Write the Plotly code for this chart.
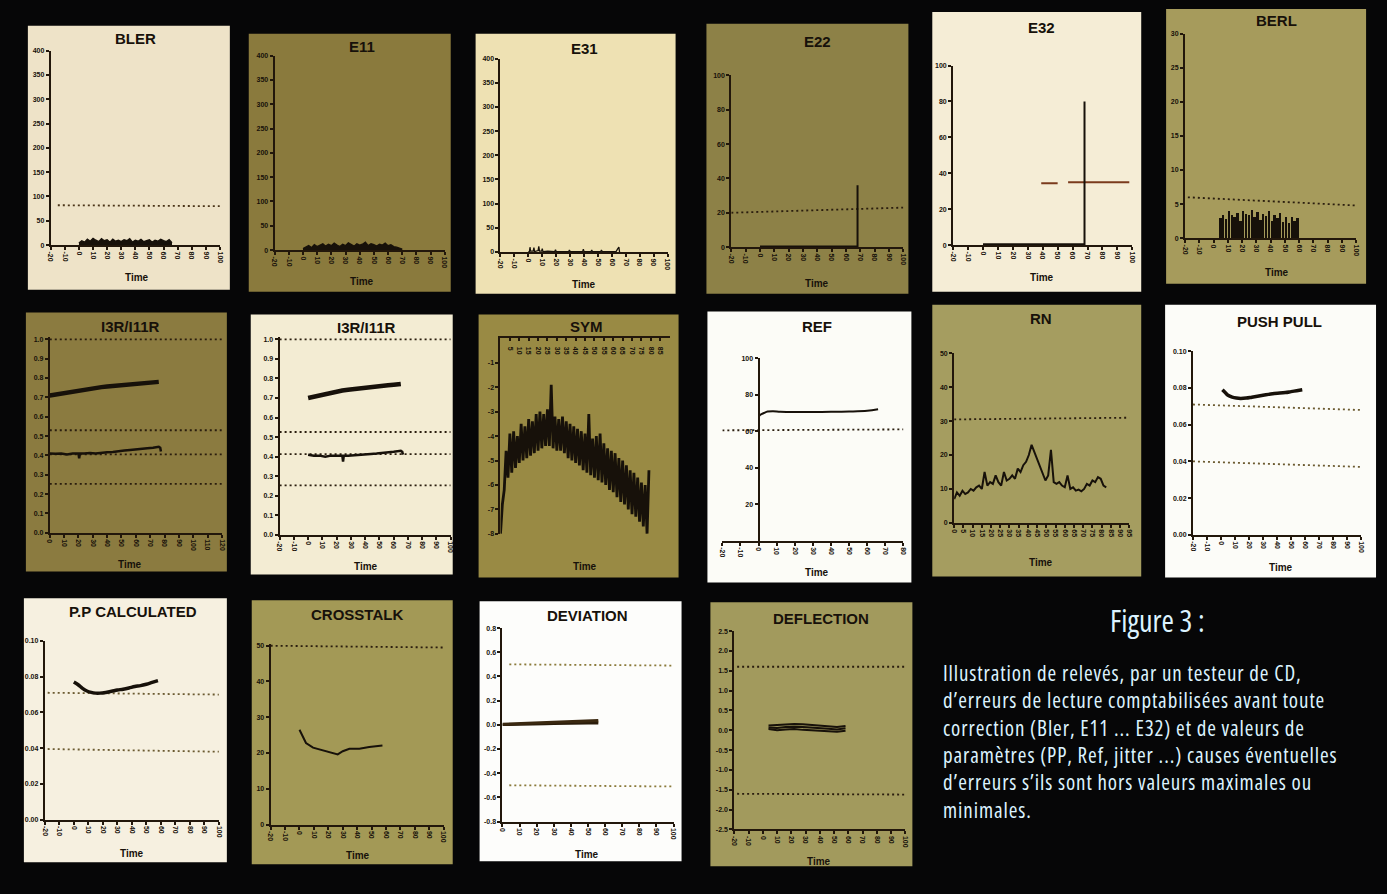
import plotly.graph_objects as go

W, H = 1387, 894

# ---------------- data ----------------
TITLES = ["BLER", "E11", "E31", "E22", "E32", "BERL",
          "I3R/I11R", "I3R/I11R", "SYM", "REF", "RN", "PUSH PULL",
          "P.P CALCULATED", "CROSSTALK", "DEVIATION", "DEFLECTION"]
TIME_LABEL = "Time"

CAPTION_TITLE = "Figure 3 :"
CAPTION_LINES = [
    "Illustration de relevés, par un testeur de CD,",
    "d’erreurs de lecture comptabilisées avant toute",
    "correction (Bler, E11 ... E32) et de valeurs de",
    "paramètres (PP, Ref, jitter ...) causes éventuelles",
    "d’erreurs s’ils sont hors valeurs maximales ou",
    "minimales.",
]

# tick values
X_STD = [-20, -10, 0, 10, 20, 30, 40, 50, 60, 70, 80, 90, 100]
X_I3R = [0, 10, 20, 30, 40, 50, 60, 70, 80, 90, 100, 110, 120]
X_SYM = [5, 10, 15, 20, 25, 30, 35, 40, 45, 50, 55, 60, 65, 70, 75, 80, 85, 90]
X_REF = [-20, -10, 0, 10, 20, 30, 40, 50, 60, 70, 80]
X_RN = [0, 5, 10, 15, 20, 25, 30, 35, 40, 45, 50, 55, 60, 65, 70, 75, 80, 85, 90, 95]
X_DEV = [0, 10, 20, 30, 40, 50, 60, 70, 80, 90, 100]

Y_400 = [0, 50, 100, 150, 200, 250, 300, 350, 400]
Y_100 = [0, 20, 40, 60, 80, 100]
Y_30 = [0, 5, 10, 15, 20, 25, 30]
Y_UNIT = [0.0, 0.1, 0.2, 0.3, 0.4, 0.5, 0.6, 0.7, 0.8, 0.9, 1.0]
Y_SYM = [-1, -2, -3, -4, -5, -6, -7, -8]
Y_REF = [20, 40, 60, 80, 100]
Y_50 = [0, 10, 20, 30, 40, 50]
Y_PP = [0.00, 0.02, 0.04, 0.06, 0.08, 0.10]
Y_DEV = [-0.8, -0.6, -0.4, -0.2, 0.0, 0.2, 0.4, 0.6, 0.8]
Y_DEF = [-2.5, -2.0, -1.5, -1.0, -0.5, 0.0, 0.5, 1.0, 1.5, 2.0, 2.5]

# series
BLER_T = [0, 2, 4, 6, 8, 10, 12, 14, 16, 18, 20, 22, 24, 26, 28, 30, 32, 34,
          36, 38, 40, 42, 44, 46, 48, 50, 52, 54, 56, 58, 60, 62, 64, 66]
BLER_V = [4, 9, 6, 12, 8, 14, 10, 7, 13, 9, 11, 6, 12, 8, 10, 7, 11, 9,
          13, 6, 10, 8, 12, 7, 9, 11, 6, 10, 8, 12, 9, 7, 11, 5]
BLER_LIMIT_T = [-15, 100]
BLER_LIMIT_V = [82, 80]

E11_T = [0, 2, 4, 6, 8, 10, 12, 14, 16, 18, 20, 22, 24, 26, 28, 30, 32, 34,
         36, 38, 40, 42, 44, 46, 48, 50, 52, 54, 56, 58, 60, 62, 64, 66, 68, 70]
E11_V = [3, 6, 9, 5, 11, 7, 10, 13, 8, 12, 9, 14, 10, 7, 12, 9, 15, 11,
         8, 13, 10, 12, 16, 9, 13, 11, 8, 12, 10, 14, 9, 11, 7, 6, 4, 2]

E31_T = [0, 0.8, 1.2, 1.6, 3.5, 4, 4.5, 6, 7, 7.5, 8, 9.5, 10, 10.5, 14, 19, 19.5, 20,
         24, 29, 29.5, 30, 34, 39, 39.5, 40, 43, 45, 45.5, 46, 49, 52, 52.5, 53, 58,
         63, 64, 65, 65.5]
E31_V = [1, 1, 10, 2, 2, 9, 1, 2, 3, 12, 2, 2, 7, 1, 2, 1, 5, 1,
         1, 1, 4, 1, 1, 1, 6, 1, 1, 1, 4, 1, 1, 1, 4, 1, 1,
         1, 6, 10, 0]

E22_T = [0, 68, 68, 68]
E22_V = [0.4, 0.4, 36, 0.4]
E22_LIMIT_T = [-20, 100]
E22_LIMIT_V = [20, 23]

E32_T = [0, 68, 68, 68]
E32_V = [0.4, 0.4, 80, 0.4]
E32_LIMIT_T = [39, 50, None, 57, 98]
E32_LIMIT_V = [34.5, 34.5, None, 35, 35]

BERL_T = [5, 7, 9, 11, 13, 15, 17, 19, 21, 23, 25, 27, 29, 31, 33, 35, 37, 39,
          41, 43, 45, 47, 49, 51, 53, 55, 57, 59]
BERL_V = [3, 3.4, 2.8, 4, 3.5, 3.2, 3.8, 2.6, 4, 3.6, 3.4, 4.2, 3.1, 3.9, 2.7, 3.6,
          3.3, 4, 2.5, 3.4, 3.0, 3.7, 2.4, 3.1, 2.2, 3.2, 2.6, 3.0]
BERL_LIMIT_T = [-18, 100]
BERL_LIMIT_V = [6, 4.8]

I3RA_T = [0, 4, 8, 12, 16, 20, 24, 28, 32, 36, 40, 44, 48, 52, 56, 60, 64, 68, 72, 76]
I3RA_UP = [0.71, 0.715, 0.72, 0.728, 0.733, 0.738, 0.742, 0.746, 0.75, 0.753,
           0.756, 0.759, 0.762, 0.765, 0.767, 0.77, 0.772, 0.775, 0.777, 0.78]
I3RA_LO_T = [0, 4, 8, 12, 16, 20, 20.5, 21, 24, 28, 32, 36, 40, 44, 48, 52, 56, 60,
             64, 68, 72, 76, 77, 77.5]
I3RA_LO = [0.41, 0.408, 0.41, 0.405, 0.41, 0.41, 0.385, 0.41, 0.41, 0.412, 0.41,
           0.415, 0.416, 0.418, 0.42, 0.425, 0.428, 0.43, 0.433, 0.437, 0.44, 0.445,
           0.44, 0.42]
I3RA_LIMITS = [1.0, 0.53, 0.405, 0.253]
I3RA_LIMIT_T = [0, 120]

I3RB_T = [0, 4, 8, 12, 16, 20, 24, 28, 32, 36, 40, 44, 48, 52, 56, 60, 65]
I3RB_UP = [0.70, 0.707, 0.715, 0.722, 0.728, 0.733, 0.738, 0.742, 0.746,
           0.75, 0.753, 0.756, 0.759, 0.762, 0.765, 0.768, 0.772]
I3RB_LO_T = [0, 4, 8, 12, 16, 20, 24, 24.5, 25, 28, 32, 36, 40, 44, 48, 52, 56,
             60, 65, 66, 66.5]
I3RB_LO = [0.41, 0.405, 0.405, 0.40, 0.405, 0.405, 0.405, 0.375, 0.405, 0.405,
           0.408, 0.41, 0.412, 0.414, 0.416, 0.418, 0.42, 0.425, 0.43, 0.425, 0.41]
I3RB_LIMITS = [1.0, 0.526, 0.413, 0.253]
I3RB_LIMIT_T = [-20, 100]

SYM_T = [0, 1, 2, 3, 4, 5, 6, 7, 8, 9, 10, 11, 12, 13, 14, 15, 16, 17, 18, 19,
         20, 21, 22, 23, 24, 25, 26, 27, 28, 29, 30, 31, 32, 33, 34, 35, 36, 37, 38, 39,
         40, 41, 42, 43, 44, 45, 46, 47, 48, 49, 50, 51, 52, 53, 54, 55, 56, 57, 58, 59,
         60, 61, 62, 63, 64, 65, 66, 67, 68, 69, 70, 71, 72, 73, 74, 75, 76, 77, 78, 79]
SYM_V = [-8.0, -6.8, -6.2, -4.6, -5.7, -3.9, -5.5, -3.8, -5.3, -4.0,
         -5.1, -3.5, -5.0, -3.6, -4.9, -3.3, -4.8, -3.4, -4.7, -3.1,
         -4.6, -3.0, -4.5, -3.1, -4.4, -2.9, -4.4, -1.9, -4.5, -3.2,
         -4.6, -3.3, -4.6, -3.2, -4.7, -3.4, -4.9, -3.5, -5.0, -3.6,
         -5.1, -3.7, -5.2, -3.8, -5.4, -3.9, -5.5, -3.1, -5.6, -4.1,
         -5.7, -4.0, -5.8, -3.9, -5.9, -4.3, -6.0, -4.5, -6.2, -4.6,
         -6.3, -4.7, -6.5, -4.9, -6.7, -5.0, -6.8, -5.2, -7.0, -5.4,
         -7.2, -5.5, -7.3, -5.7, -7.5, -5.9, -7.7, -6.0, -8.0, -5.4]

REF_T = [0, 1, 3, 5, 8, 12, 20, 30, 40, 50, 60, 66]
REF_V = [68, 69, 70, 70.8, 71, 70.7, 70.5, 70.5, 70.6, 70.8, 71.2, 72]
REF_LIMITS = [(100.5, 101), (60.5, 61)]
REF_LIMIT_T = [-20, 80]

RN_T = [0, 1.5, 3, 4.5, 6, 7.5, 9, 10.5, 12, 13.5, 15, 16.5, 18, 19.5, 21, 22.5,
        24, 25.5, 27, 28.5, 30, 31.5, 33, 34.5, 36, 37.5, 39, 40.5, 42, 43.5, 45,
        46.5, 48, 49.5, 51, 52.5, 54, 55.5, 57, 58.5, 60, 61.5, 63, 64.5, 66, 67.5,
        69, 70.5, 72, 73.5, 75, 76.5, 78, 79.5, 81, 82.5]
RN_V = [7, 9, 8, 9.5, 8.5, 9, 10, 9.5, 10.5, 11, 10, 15, 11, 12, 11.5, 14,
        12, 11, 15, 12.5, 13, 14, 13, 16, 15, 17, 18, 20, 23, 21, 19,
        17, 15, 12.5, 14, 21.5, 12, 11.5, 12, 11, 10.5, 14, 10, 10.5, 9.5, 9.8,
        9.3, 10, 11.5, 11, 12.5, 12, 13.5, 13, 11, 10.5]
RN_LIMIT = (30.5, 31)
RN_LIMIT_T = [0, 95]

PP_T = [1, 3, 5, 8, 11, 14, 18, 22, 26, 30, 34, 38, 42, 46, 50, 54, 58]
PP_V = [0.079, 0.0775, 0.076, 0.075, 0.0745, 0.0743, 0.0745, 0.075, 0.0755,
        0.076, 0.0765, 0.077, 0.0772, 0.0775, 0.078, 0.0785, 0.079]
PP_LIMITS = [(0.071, 0.068), (0.040, 0.037)]
PP_LIMIT_T = [-20, 100]

PPC_T = [0, 3, 6, 9, 12, 15, 18, 22, 26, 30, 34, 38, 42, 46, 50, 54, 58]
PPC_V = [0.077, 0.0755, 0.0735, 0.072, 0.0712, 0.0708, 0.0708, 0.0712, 0.0718,
         0.0725, 0.073, 0.0737, 0.0745, 0.075, 0.0758, 0.0768, 0.0778]
PPC_LIMITS = [(0.071, 0.070), (0.0395, 0.038)]
PPC_LIMIT_T = [-18, 100]

CT_T = [0, 4.5, 9.4, 14, 18.5, 22.5, 26.5, 30, 34.6, 41.5, 48.3, 57.5]
CT_V = [26.5, 22.8, 21.5, 21, 20.5, 20, 19.6, 20.5, 21.2, 21.2, 21.7, 22.1]
CT_LIMIT = (50, 49.5)
CT_LIMIT_T = [-20, 100]

DEV_T = [0, 5, 10, 15, 20, 25, 30, 35, 40, 45, 50, 56]
DEV_UP = [0.005, 0.008, 0.01, 0.013, 0.016, 0.02, 0.022, 0.025, 0.028, 0.03, 0.033, 0.035]
DEV_LO = [0.0, 0.0, 0.002, 0.003, 0.004, 0.006, 0.008, 0.01, 0.01, 0.012, 0.012, 0.012]
DEV_LIMITS = [(0.5, 0.49), (-0.5, -0.51)]
DEV_LIMIT_T = [4, 100]

DEF_T = [4, 10, 16, 22, 28, 34, 40, 46, 52, 58]
DEF_L1 = [0.12, 0.13, 0.15, 0.16, 0.15, 0.13, 0.12, 0.10, 0.08, 0.11]
DEF_L2 = [0.07, 0.06, 0.08, 0.09, 0.08, 0.07, 0.05, 0.04, 0.02, 0.05]
DEF_L3 = [0.03, 0.0, 0.02, 0.03, 0.01, 0.0, -0.02, -0.03, -0.04, -0.01]
DEF_LIMITS = [(1.6, 1.6), (-1.6, -1.62)]
DEF_LIMIT_T = [-18, 100]

# ---------------- layout of the panels (pixels) ----------------
PANELS = [
    dict(card=(25, 22, 228, 288), bg="#eee3c8", plot=(48, 47, 218, 243), tit=(133, 35), time=(135, 276),
         xr=(-20, 100), xt=X_STD, yr=(0, 400), yt=Y_400, yf="{:.0f}"),
    dict(card=(247, 30, 450, 290), bg="#8a7a3d", plot=(273, 52, 444, 248), tit=(361, 43), time=(361, 280),
         xr=(-20, 100), xt=X_STD, yr=(0, 400), yt=Y_400, yf="{:.0f}"),
    dict(card=(475, 30, 676, 292), bg="#eee1b3", plot=(500, 55, 668, 250), tit=(584, 45), time=(584, 283),
         xr=(-20, 100), xt=X_STD, yr=(0, 400), yt=Y_400, yf="{:.0f}"),
    dict(card=(707, 20, 910, 292), bg="#8d8147", plot=(732, 72, 905, 245), tit=(819, 38), time=(818, 282),
         xr=(-20, 100), xt=X_STD, yr=(0, 100), yt=Y_100, yf="{:.0f}"),
    dict(card=(934, 8, 1144, 290), bg="#f5edd6", plot=(955, 62, 1135, 243), tit=(1044, 24), time=(1044, 276),
         xr=(-20, 100), xt=X_STD, yr=(0, 100), yt=Y_100, yf="{:.0f}"),
    dict(card=(1169, 5, 1370, 282), bg="#a69b5c", plot=(1188, 30, 1360, 236), tit=(1280, 17), time=(1280, 271),
         xr=(-20, 100), xt=X_STD, yr=(0, 30), yt=Y_30, yf="{:.0f}"),
    dict(card=(23, 311, 225, 572), bg="#8b7b40", plot=(47, 336, 220, 533), tit=(128, 325), time=(128, 565),
         xr=(0, 120), xt=X_I3R, yr=(0, 1.01), yt=Y_UNIT, yf="{:.1f}"),
    dict(card=(249, 313, 452, 575), bg="#f3ecd3", plot=(278, 336, 450, 535), tit=(365, 326), time=(365, 567),
         xr=(-20, 100), xt=X_STD, yr=(0, 1.01), yt=Y_UNIT, yf="{:.1f}"),
    dict(card=(478, 313, 679, 578), bg="#998a44", plot=(500, 337, 670, 534), tit=(586, 325), time=(585, 567),
         xr=(0, 90), xt=X_SYM, yr=(-8, 0), yt=Y_SYM, yf="{:.0f}", xside="top"),
    dict(card=(708, 310, 913, 583), bg="#fcfcf7", plot=(723, 357, 905, 541), tit=(818, 325), time=(818, 573),
         xr=(-20, 80), xt=X_REF, yr=(0, 100), yt=Y_REF, yf="{:.0f}", yfree=0),
    dict(card=(934, 303, 1144, 577), bg="#a59d60", plot=(956, 352, 1132, 523), tit=(1043, 317), time=(1043, 563),
         xr=(0, 95), xt=X_RN, yr=(0, 50), yt=Y_50, yf="{:.0f}"),
    dict(card=(1168, 303, 1380, 578), bg="#fcfcf8", plot=(1196, 350, 1365, 535), tit=(1283, 320), time=(1284, 568),
         xr=(-20, 100), xt=X_STD, yr=(0, 0.10), yt=Y_PP, yf="{:.2f}"),
    dict(card=(21, 599, 225, 865), bg="#f6f0e0", plot=(42, 642, 217, 822), tit=(131, 612), time=(130, 856),
         xr=(-20, 100), xt=X_STD, yr=(0, 0.10), yt=Y_PP, yf="{:.2f}"),
    dict(card=(250, 601, 452, 867), bg="#a39956", plot=(269, 645, 443, 827), tit=(356, 615), time=(357, 858),
         xr=(-20, 100), xt=X_STD, yr=(0, 50.5), yt=Y_50, yf="{:.0f}"),
    dict(card=(479, 602, 682, 864), bg="#fdfdfb", plot=(502, 629, 674, 824), tit=(587, 616), time=(587, 857),
         xr=(0, 100), xt=X_DEV, yr=(-0.8, 0.8), yt=Y_DEV, yf="{:.1f}"),
    dict(card=(711, 603, 914, 869), bg="#a29a5d", plot=(735, 632, 907, 832), tit=(822, 619), time=(820, 864),
         xr=(-20, 100), xt=X_STD, yr=(-2.5, 2.5), yt=Y_DEF, yf="{:.1f}"),
]

INK = "#17110a"
DOT = "#2a1d0e"
AXIS = "#22170b"


def fx(p):
    return p / W


def fy(p):
    return 1 - p / H


fig = go.Figure()
shapes, annotations = [], []
layout = dict(width=W, height=H, margin=dict(l=0, r=0, t=0, b=0),
              paper_bgcolor="#060607", plot_bgcolor="rgba(0,0,0,0)",
              showlegend=False, font=dict(family="Liberation Sans, Arial, sans-serif"))

for i, p in enumerate(PANELS, start=1):
    xa = "xaxis" if i == 1 else f"xaxis{i}"
    ya = "yaxis" if i == 1 else f"yaxis{i}"
    xid = "x" if i == 1 else f"x{i}"
    yid = "y" if i == 1 else f"y{i}"
    c0, r0, c1, r1 = p["card"]
    shapes.append(dict(type="rect", xref="paper", yref="paper", layer="below",
                       x0=fx(c0), x1=fx(c1), y0=fy(r1), y1=fy(r0),
                       fillcolor=p["bg"], line=dict(width=0)))
    q0, s0, q1, s1 = p["plot"]
    tickfont = dict(size=7, color=INK, family="Liberation Sans, Arial", weight=700)
    xcfg = dict(domain=[fx(q0), fx(q1)], range=list(p["xr"]), anchor=yid,
                tickvals=p["xt"], ticktext=[str(v) for v in p["xt"]],
                tickangle=90, tickfont=tickfont, showline=True, linecolor=AXIS,
                linewidth=2, ticks="outside", ticklen=3, tickwidth=1.5, tickcolor=AXIS,
                showgrid=False, zeroline=False, fixedrange=True,
                side=p.get("xside", "bottom"))
    if p.get("xside") == "top":
        xcfg.update(ticklabelposition="inside", ticks="inside")
    layout[xa] = xcfg
    ycfg = dict(domain=[fy(s1), fy(s0)], range=list(p["yr"]), anchor=xid,
                tickvals=p["yt"], ticktext=[p["yf"].format(v) for v in p["yt"]],
                tickfont=tickfont, showline=True, linecolor=AXIS, linewidth=2,
                ticks="outside", ticklen=3, tickwidth=1.5, tickcolor=AXIS,
                showgrid=False, zeroline=False, fixedrange=True)
    if "yfree" in p:
        xr0, xr1 = p["xr"]
        pos = q0 + (p["yfree"] - xr0) / (xr1 - xr0) * (q1 - q0)
        ycfg.update(anchor="free", position=fx(pos))
    layout[ya] = ycfg
    annotations.append(dict(text=f"<b>{TITLES[i - 1]}</b>", x=fx(p["tit"][0]), y=fy(p["tit"][1]),
                            xref="paper", yref="paper", showarrow=False, xanchor="center",
                            yanchor="middle", font=dict(size=15, color=INK,
                                                        family="Liberation Sans, Arial")))
    annotations.append(dict(text=f"<b>{TIME_LABEL}</b>", x=fx(p["time"][0]), y=fy(p["time"][1]),
                            xref="paper", yref="paper", showarrow=False, xanchor="center",
                            yanchor="middle", font=dict(size=10, color=INK,
                                                        family="Liberation Sans, Arial")))


def ax(i):
    return ("x" if i == 1 else f"x{i}"), ("y" if i == 1 else f"y{i}")


def line(i, x, y, width=1.5, color=INK, dash=None, fill=None, fillcolor=None, shape="linear"):
    xr, yr = ax(i)
    fig.add_trace(go.Scatter(x=x, y=y, xaxis=xr, yaxis=yr, mode="lines",
                             line=dict(width=width, color=color, dash=dash, shape=shape),
                             fill=fill, fillcolor=fillcolor, hoverinfo="skip",
                             connectgaps=False))


def limit(i, t, v0, v1, color=DOT, width=1.8):
    line(i, t, [v0, v1], width=width, color=color, dash="2px,3px")


# 1 BLER
limit(1, BLER_LIMIT_T, *BLER_LIMIT_V, color="#4a3418")
line(1, BLER_T, BLER_V, width=1.4, fill="tozeroy", fillcolor=INK)
# 2 E11
line(2, E11_T, E11_V, width=1.4, fill="tozeroy", fillcolor=INK)
# 3 E31
line(3, E31_T, E31_V, width=1.3)
# 4 E22
limit(4, E22_LIMIT_T, *E22_LIMIT_V)
line(4, E22_T, E22_V, width=2)
# 5 E32
line(5, E32_LIMIT_T, E32_LIMIT_V, width=2, color="#7a3a1c")
line(5, E32_T, E32_V, width=2)
# 6 BERL
limit(6, BERL_LIMIT_T, *BERL_LIMIT_V)
fig.add_trace(go.Bar(x=BERL_T, y=BERL_V, xaxis="x6", yaxis="y6", width=1.3,
                     marker=dict(color=INK, line=dict(width=0)), hoverinfo="skip"))
# 7 I3R/I11R (olive)
for lv in I3RA_LIMITS:
    limit(7, I3RA_LIMIT_T, lv, lv)
line(7, I3RA_T, I3RA_UP, width=4.5)
line(7, I3RA_LO_T, I3RA_LO, width=2.5)
# 8 I3R/I11R (cream)
for lv in I3RB_LIMITS:
    limit(8, I3RB_LIMIT_T, lv, lv)
line(8, I3RB_T, I3RB_UP, width=4.5)
line(8, I3RB_LO_T, I3RB_LO, width=2.5)
# 9 SYM
line(9, SYM_T, SYM_V, width=2.8)
# 10 REF
for a, b in REF_LIMITS:
    limit(10, REF_LIMIT_T, a, b)
line(10, REF_T, REF_V, width=2, shape="spline")
# 11 RN
limit(11, RN_LIMIT_T, *RN_LIMIT)
line(11, RN_T, RN_V, width=2)
# 12 PUSH PULL
for a, b in PP_LIMITS:
    limit(12, PP_LIMIT_T, a, b, color="#6b5a30")
line(12, PP_T, PP_V, width=3.5, shape="spline")
# 13 P.P CALCULATED
for a, b in PPC_LIMITS:
    limit(13, PPC_LIMIT_T, a, b, color="#6b5a30")
line(13, PPC_T, PPC_V, width=3.5, shape="spline")
# 14 CROSSTALK
limit(14, CT_LIMIT_T, *CT_LIMIT)
line(14, CT_T, CT_V, width=2)
# 15 DEVIATION
for a, b in DEV_LIMITS:
    limit(15, DEV_LIMIT_T, a, b, color="#8a7a3a")
line(15, DEV_T, DEV_LO, width=2.5, color="#2a1c0a")
line(15, DEV_T, DEV_UP, width=3, color="#3a2810", fill="tonexty", fillcolor="#9c7e4a")
# 16 DEFLECTION
for a, b in DEF_LIMITS:
    limit(16, DEF_LIMIT_T, a, b)
line(16, DEF_T, DEF_L1, width=2)
line(16, DEF_T, DEF_L2, width=2)
line(16, DEF_T, DEF_L3, width=2)

# caption
CAP = "#dcf3ff"
CAP_FONT = "Open Sans, Liberation Sans, sans-serif"
annotations.append(dict(text=f"<span style='font-stretch:82%'>{CAPTION_TITLE}</span>",
                        x=fx(1160), y=fy(621), xref="paper", yref="paper",
                        showarrow=False, xanchor="center", yanchor="middle",
                        font=dict(size=30, color=CAP, family=CAP_FONT)))
caption_body = "<br>".join(
    f"<span style='font-stretch:82%;letter-spacing:0.9px'>{t}</span>" for t in CAPTION_LINES)
annotations.append(dict(text=caption_body, x=fx(943), y=fy(743), xref="paper", yref="paper",
                        showarrow=False, xanchor="left", yanchor="middle", align="left",
                        font=dict(size=21, color=CAP, family=CAP_FONT)))

layout["shapes"] = shapes
layout["annotations"] = annotations
layout["bargap"] = 0
fig.update_layout(**layout)
fig.write_html("out.html", config={"displayModeBar": False},
               post_script="document.body.style.margin='0';")
